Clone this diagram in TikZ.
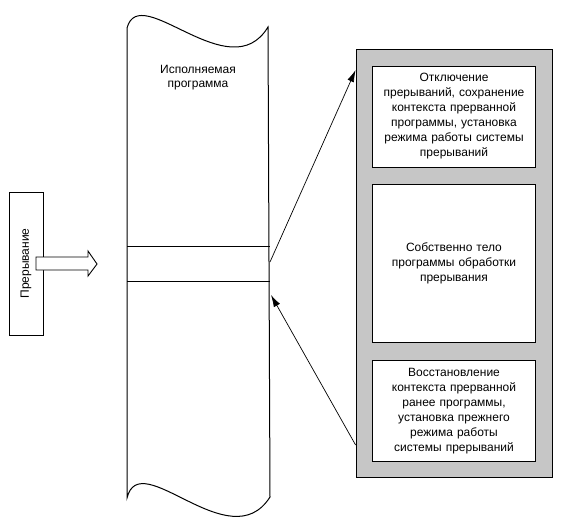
\documentclass[tikz,border=0pt]{standalone}
\usepackage{fontspec}
\setmainfont{Liberation Sans}
\usetikzlibrary{arrows.meta, positioning}

\tikzset{
  stage/.style={draw, line width=0.8pt, fill=white, minimum width=163pt, text width=160pt, align=center,
    inner sep=0pt, font=\fontsize{12}{15}\selectfont},
  frame/.style={draw, line width=0.8pt, fill=gray!45, minimum width=196pt, minimum height=428pt},
  jump/.style={-{Latex[length=12pt,width=7pt]}, line width=0.7pt},
}

\begin{document}
\begin{tikzpicture}[x=1pt, y=-1pt]
        \useasboundingbox (0,0) rectangle (584,522);
        % Draw the program strip
        \draw [line width=1pt] (127,28) .. controls (140,-20) and (230,90) .. (268,27)
            -- (270,497) .. controls (230,560) and (140,445) .. (127,498) -- cycle;
        \draw [line width=0.9pt] (127,246) -- (270,246);
        \draw [line width=0.9pt] (127,281) -- (270,281);
        \node (prog) [align=center, font=\fontsize{12}{14}\selectfont] at (198,78) {Исполняемая\\программа};
        % Interrupt request
        \node (irq) [draw, line width=0.9pt, rotate=90, minimum width=143pt, minimum height=34pt,
            font=\fontsize{12}{14}\selectfont] at (26,263.5) {Прерывание};
        \draw [fill=white, line width=0.9pt] (36,257) -- (88,257) -- (88,251) -- (97,264) -- (88,276)
            -- (88,270) -- (36,270) -- cycle;
        % Handler
        \node (handler) [frame] at (454,263) {};
        \node (save) [stage, minimum height=101pt, below=17pt of handler.north]
            {Отключение\\прерываний, сохранение\\контекста прерванной\\программы, установка\\режима работы системы\\прерываний};
        \node (body) [stage, minimum height=158pt, below=17pt of save]
            {Собственно тело\\программы обработки\\прерывания};
        \node (restore) [stage, minimum height=101pt, below=17pt of body]
            {Восстановление\\контекста прерванной\\ранее программы,\\установка прежнего\\режима работы\\системы прерываний};
        % Jumps
        \coordinate (brk) at (270,262);
        \coordinate (ret) at (271,295);
        \draw [jump] (brk) -- (handler.west |- 0,70);
        \draw [jump] (handler.west |- 0,445) -- (ret);
    \end{tikzpicture}
\end{document}
